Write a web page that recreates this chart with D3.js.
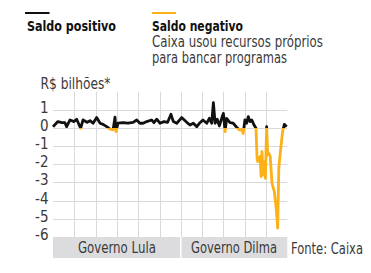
<!DOCTYPE html>
<html>
<head>
<meta charset="utf-8">
<script src="https://cdn.jsdelivr.net/npm/d3@7"></script>
<style>
  body { margin: 0; background: #fff; }
  svg text { font-family: "DejaVu Sans Condensed", "DejaVu Sans", sans-serif; }
</style>
</head>
<body>
<div id="chart"></div>
<script>
// dados (ano decimal, saldo em R$ bilhões)
var anos = [2005.00, 2005.23, 2005.42, 2005.56, 2005.64, 2005.80, 2005.99, 2006.11, 2006.30, 2006.41,
  2006.60, 2006.74, 2006.88, 2007.05, 2007.21, 2007.35, 2007.52, 2007.68, 2007.82, 2007.91,
  2007.96, 2008.05, 2008.29, 2008.52, 2008.76, 2008.93, 2009.08, 2009.23, 2009.40, 2009.63,
  2009.74, 2009.87, 2010.02, 2010.21, 2010.38, 2010.54, 2010.65, 2010.81, 2011.04, 2011.28,
  2011.43, 2011.59, 2011.75, 2011.90, 2012.04, 2012.22, 2012.34, 2012.45, 2012.53, 2012.61,
  2012.71, 2012.81, 2012.92, 2013.00, 2013.08, 2013.15, 2013.31, 2013.46, 2013.62, 2013.75,
  2013.86, 2013.93, 2014.01, 2014.09, 2014.17, 2014.25, 2014.33, 2014.44, 2014.53, 2014.58,
  2014.61, 2014.72, 2014.77, 2014.81, 2014.87, 2014.92, 2014.97, 2015.03, 2015.08, 2015.13,
  2015.20, 2015.28, 2015.39, 2015.47, 2015.55, 2015.60, 2015.66, 2015.78, 2015.86, 2015.97];
var saldo = [0.07, 0.35, 0.29, 0.29, 0.07, 0.44, 0.35, 0.48, -0.02, 0.44,
  0.31, 0.40, 0.26, 0.57, 0.26, 0.20, 0.07, -0.07, -0.11, 0.59,
  -0.20, 0.26, 0.29, 0.26, 0.31, 0.44, 0.26, 0.26, 0.35, 0.44,
  0.29, 0.48, 0.26, 0.35, 0.31, 0.75, 0.35, 0.26, 0.57, 0.31,
  0.16, 0.26, 0.07, 0.29, 0.44, 0.26, 0.53, 0.26, 1.39, 0.26,
  0.48, 0.11, 0.53, 0.80, -0.20, 0.53, 0.29, 0.26, 0.04, -0.11,
  -0.10, -0.30, 0.44, 0.26, 0.62, 0.35, 0.44, 0.16, -0.02, -1.67,
  -1.85, -1.57, -2.67, -1.30, -2.58, -1.85, -2.77, 0.07, -1.48, -1.39,
  -1.57, -3.04, -3.50, -4.32, -5.51, -2.21, -1.48, -0.20, 0.20, 0.07];

var yTicks = [1, 0, -1, -2, -3, -4, -5, -6];
var xTicks = [2006, 2007, 2008, 2009, 2010, 2011, 2012, 2013, 2014, 2015];
var governos = [
  { nome: "Governo Lula", inicio: 2005, fim: 2011, largura: 78 },
  { nome: "Governo Dilma", inicio: 2011, fim: 2016, largura: 86 }
];

var width = 371, height = 273;
var laranja = "#fbb117";

var svg = d3.select("#chart").append("svg")
  .attr("width", width)
  .attr("height", height);

var x = d3.scaleLinear().domain([2005, 2016]).range([53, 287.3]);
var y = d3.scaleLinear().domain([-6, 2]).range([237, 91.6]);

// texto com largura fixa (fonte condensada do original)
function texto(px, py, t, size, w) {
  var el = svg.append("text").attr("x", px).attr("y", py).text(t)
    .attr("font-size", size).attr("fill", "#3a3a3a");
  if (w) el.attr("textLength", w).attr("lengthAdjust", "spacingAndGlyphs");
  return el;
}

// legenda
svg.append("line").attr("x1", 25).attr("x2", 49.5).attr("y1", 13).attr("y2", 13)
  .attr("stroke", "#111").attr("stroke-width", 2);
svg.append("line").attr("x1", 152).attr("x2", 176).attr("y1", 13).attr("y2", 13)
  .attr("stroke", laranja).attr("stroke-width", 2);
texto(27, 31, "Saldo positivo", 14.5, 89).attr("font-weight", "bold").attr("fill", "#111");
texto(152, 31, "Saldo negativo", 14.5, 91).attr("font-weight", "bold").attr("fill", "#111");
texto(152, 47, "Caixa usou recursos próprios", 15, 171);
texto(152, 62.5, "para bancar programas", 15, 135);

texto(40.5, 88.5, "R$ bilhões*", 15, 70);

// grade
svg.append("g").selectAll("line")
  .data(yTicks.filter(function(d) { return d > -6; }))
  .enter().append("line")
  .attr("x1", x(2005)).attr("x2", x(2016))
  .attr("y1", function(d) { return Math.round(y(d)) + 0.5; })
  .attr("y2", function(d) { return Math.round(y(d)) + 0.5; })
  .attr("stroke", "#d9d9d9");

svg.append("g").selectAll("line")
  .data(xTicks)
  .enter().append("line")
  .attr("x1", function(d) { return Math.round(x(d)) + 0.5; })
  .attr("x2", function(d) { return Math.round(x(d)) + 0.5; })
  .attr("y1", y(2)).attr("y2", y(-6))
  .attr("stroke", "#d9d9d9");

// eixo y
svg.append("g").selectAll("text")
  .data(yTicks)
  .enter().append("text")
  .attr("x", 48.5)
  .attr("y", function(d) { return y(d) + 3; })
  .attr("text-anchor", "end")
  .attr("font-size", 15)
  .attr("fill", "#3a3a3a")
  .text(function(d) { return d; });

// faixa dos governos
svg.append("g").selectAll("rect")
  .data(governos)
  .enter().append("rect")
  .attr("x", function(d) { return x(d.inicio); })
  .attr("width", function(d) { return x(d.fim) - x(d.inicio); })
  .attr("y", y(-6))
  .attr("height", 21)
  .attr("fill", "#dcdcde");

svg.append("line")
  .attr("x1", x(2011)).attr("x2", x(2011))
  .attr("y1", y(-6)).attr("y2", y(-6) + 21)
  .attr("stroke", "#fff").attr("stroke-width", 1.5);

governos.forEach(function(d) {
  texto((x(d.inicio) + x(d.fim)) / 2 - d.largura / 2, 253, d.nome, 15, d.largura);
});

texto(291, 254, "Fonte: Caixa", 15, 72);

// linha: preta acima de zero, laranja abaixo
var dados = anos.map(function(a, i) { return { ano: a, valor: saldo[i] }; });
var linha = d3.line()
  .x(function(d) { return x(d.ano); })
  .y(function(d) { return y(d.valor); });

var defs = svg.append("defs");
defs.append("clipPath").attr("id", "acima")
  .append("rect").attr("x", 0).attr("y", 0).attr("width", width).attr("height", y(0));
defs.append("clipPath").attr("id", "abaixo")
  .append("rect").attr("x", 0).attr("y", y(0)).attr("width", width).attr("height", height - y(0));

svg.append("path").datum(dados)
  .attr("d", linha)
  .attr("fill", "none")
  .attr("stroke", laranja)
  .attr("stroke-width", 2.8)
  .attr("stroke-linejoin", "round")
  .attr("clip-path", "url(#abaixo)");

svg.append("path").datum(dados)
  .attr("d", linha)
  .attr("fill", "none")
  .attr("stroke", "#111")
  .attr("stroke-width", 2.8)
  .attr("stroke-linejoin", "round")
  .attr("clip-path", "url(#acima)");
</script>
</body>
</html>
